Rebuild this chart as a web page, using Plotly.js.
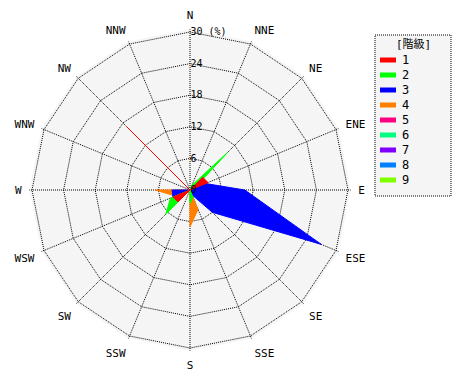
<!DOCTYPE html>
<html><head><meta charset="utf-8">
<script src="https://cdn.plot.ly/plotly-3.0.1.min.js"></script>
<style>html,body{margin:0;padding:0;background:#fff}</style>
</head><body>
<div id="chart" style="width:470px;height:380px"></div>
<script>
// ---- data ----
const directions = ['N','NNE','NE','ENE','E','ESE','SE','SSE','S','SSW','SW','WSW','W','WNW','NW','NNW'];
const classNames = ['1','2','3','4','5','6','7','8','9'];
const classColors = ['#ff0000','#00ff00','#0000ff','#ff8000','#ff0080','#00ff80','#8000ff','#0080ff','#80ff00'];
//             N  NNE  NE   ENE  E    ESE  SE  SSE  S    SSW SW   WSW  W    WNW NW  NNW
const class1 = [0, 0,   3.4, 3.7, 0,   0,   0,  0,   0,   0,  3.2, 3.5, 0,   0,  17, 0];
const class2 = [0, 1,   10.1,1,   0,   0,   0,  1.5, 2.5, 0,  6.5, 4,   0,   0,  0,  0];
const class3 = [0, 0,   0,   3.2, 10.4,27,  6,  1,   0,   0,  0,   3.5, 3.4, 0,  0,  0];
const class4 = [0, 0,   0,   0,   0,   0,   0,  4,   7,   0,  0,   3,   6.6, 0,  0,  0];
const class5 = [0, 0,   0,   0,   0,   0,   0,  0,   0,   0,  0,   0,   0,   0,  0,  0];
const class6 = [0, 0,   0,   0,   0,   0,   0,  0,   0,   0,  0,   0,   0,   0,  0,  0];
const class7 = [0, 0,   0,   0,   0,   0,   0,  0,   0,   0,  0,   0,   0,   0,  0,  0];
const class8 = [0, 0,   0,   0,   0,   0,   0,  0,   0,   0,  0,   0,   0,   0,  0,  0];
const class9 = [0, 0,   0,   0,   0,   0,   0,  0,   0,   0,  0,   0,   0,   0,  0,  0];
const radialTicks = [0, 6, 12, 18, 24, 30];
const radialTickText = ['0', '6', '12', '18', '24', '30 (%)'];
const radialMax = 30.5;   // slightly beyond 30 so the outer 30 ring is drawn
const legendTitle = '[階級]';

const classValues = [class1, class2, class3, class4, class5, class6, class7, class8, class9];
const FONT = 'DejaVu Sans Mono, Noto Sans CJK JP, monospace';
const DOTS = '1px,1px';

// draw outer classes first so class 1 ends on top
const traces = [];
for (let i = classValues.length - 1; i >= 0; i--) {
  const r = classValues[i].concat([classValues[i][0]]);
  const th = directions.concat([directions[0]]);
  traces.push({
    type: 'scatterpolar', mode: 'lines', r: r, theta: th,
    fill: 'toself', fillcolor: classColors[i],
    line: {color: classColors[i], width: 1},
    name: classNames[i], showlegend: false, hoverinfo: 'skip'
  });
}

// manual legend (box, swatches, labels)
const W = 470, H = 380;
const px = x => x / W, py = y => 1 - y / H;
const shapes = [{
  type: 'rect', xref: 'paper', yref: 'paper',
  x0: px(375), x1: px(451), y0: py(35), y1: py(196),
  fillcolor: '#f5f5f5', line: {color: '#000', width: 1, dash: DOTS}, layer: 'below'
}];
const annotations = [{
  xref: 'paper', yref: 'paper', x: px(413), y: py(44), text: legendTitle,
  showarrow: false, xanchor: 'center', yanchor: 'middle',
  font: {family: FONT, size: 11, color: '#000'}
}];
classNames.forEach((nm, i) => {
  const yy = 60 + 15 * i;
  shapes.push({type: 'line', xref: 'paper', yref: 'paper',
    x0: px(380), x1: px(396), y0: py(yy), y1: py(yy),
    line: {color: classColors[i], width: 5}});
  annotations.push({xref: 'paper', yref: 'paper', x: px(400), y: py(yy), text: nm,
    showarrow: false, xanchor: 'left', yanchor: 'middle',
    font: {family: FONT, size: 12, color: '#000'}});
});

// polar radius so that r=30 lands 158px from the centre (190,190)
const R = 158 * radialMax / 30, CX = 190, CY = 190;

const layout = {
  width: W, height: H,
  margin: {l: 0, r: 0, t: 0, b: 0},
  paper_bgcolor: '#ffffff',
  font: {family: FONT, size: 11, color: '#000'},
  showlegend: false,
  polar: {
    domain: {x: [(CX - R) / W, (CX + R) / W], y: [(H - CY - R) / H, (H - CY + R) / H]},
    bgcolor: '#f5f5f5',
    gridshape: 'linear',
    angularaxis: {
      type: 'category', categoryarray: directions,
      direction: 'clockwise', rotation: 90,
      showline: false, ticks: 'outside', ticklen: 5, tickcolor: 'rgba(0,0,0,0)',
      gridcolor: '#000', griddash: DOTS, gridwidth: 1,
      tickfont: {family: FONT, size: 11, color: '#000'}
    },
    radialaxis: {
      range: [0, radialMax], angle: 90, tickangle: 90,
      tickvals: radialTicks, ticktext: radialTickText,
      showline: false, ticks: '',
      gridcolor: '#000', griddash: DOTS, gridwidth: 1,
      tickfont: {family: FONT, size: 10, color: '#000'}
    }
  },
  shapes: shapes,
  annotations: annotations
};

Plotly.newPlot('chart', traces, layout, {staticPlot: true});
</script>
</body></html>
